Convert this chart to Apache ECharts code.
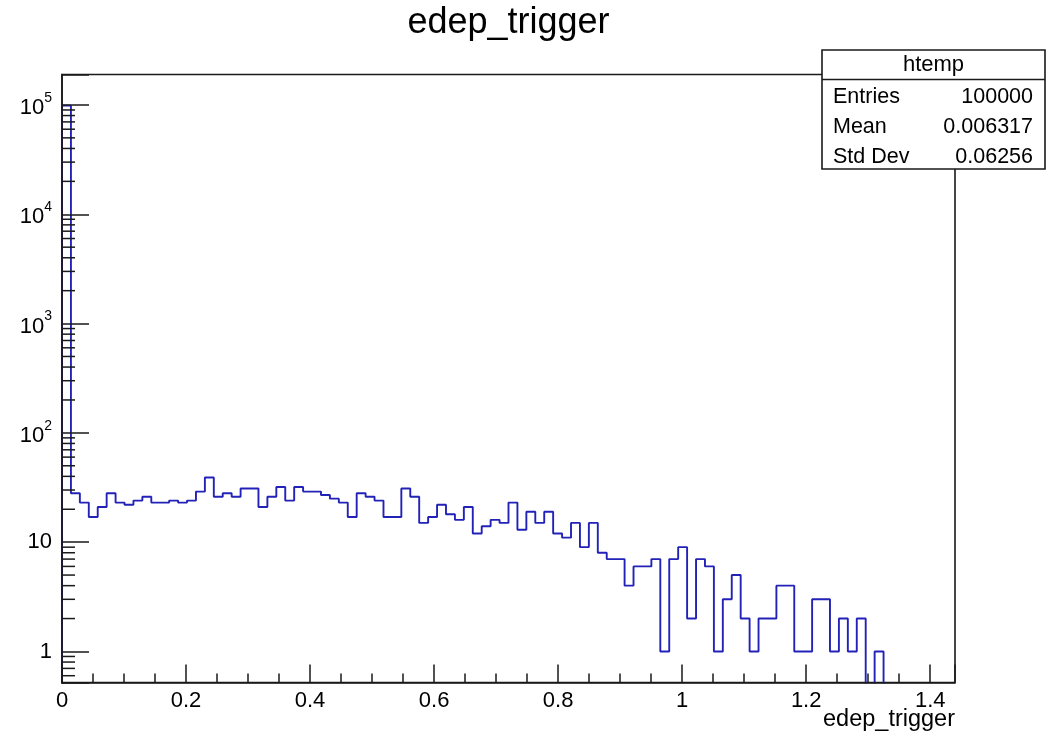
<!DOCTYPE html>
<html>
<head>
<meta charset="utf-8">
<script src="https://cdn.jsdelivr.net/npm/echarts@6/dist/echarts.min.js"></script>
<style>
html, body { margin: 0; padding: 0; background: #ffffff; }
#chart { width: 1058px; height: 740px; }
</style>
</head>
<body>
<div id="chart"></div>
<script>
// ---------- data ----------
const chartTitle = 'edep_trigger';
const xAxisTitle = 'edep_trigger';
const binLow = 0;
const binWidth = 0.0144;
const counts = [
  98574, 28, 23, 17, 21, 28, 23, 22, 24, 26,
  23, 23, 24, 23, 24, 29, 39, 26, 28, 26,
  31, 31, 21, 26, 32, 24, 32, 29, 29, 27,
  25, 23, 17, 28, 26, 24, 17, 17, 31, 26,
  15, 17, 22, 18, 16, 21, 12, 14, 16, 15,
  23, 13, 19, 15, 19, 12, 11, 15, 9, 15,
  8, 7, 7, 4, 6, 6, 7, 1, 7, 9,
  2, 7, 6, 1, 3, 5, 2, 1, 2, 2,
  4, 4, 1, 1, 3, 3, 1, 2, 1, 2,
  0, 1, 0, 0, 0, 0, 0, 0, 0, 0
];
const xRange = [0, 1.44];
const xTickStep = 0.2;
const yRange = [0.52, 1.9e5];
const statsTitle = 'htemp';
const statsNames = ['Entries', 'Mean', 'Std Dev'];
const statsValues = ['100000', '0.006317', '0.06256'];

// ---------- styles ----------
const FONT = '"Liberation Sans", Arial, Helvetica, sans-serif';
const LINE_BLUE = '#2222b8';
const AXIS_COL = '#1a1a1a';

// histogram outline (zero bins drop below the frame and are clipped)
const floorVal = yRange[0] * 0.7;
const outline = [[binLow, floorVal]];
counts.forEach((c, i) => {
  const x0 = binLow + i * binWidth;
  const x1 = x0 + binWidth;
  const y = Math.max(c, floorVal);
  outline.push([x0, y], [x1, y]);
});
outline.push([binLow + counts.length * binWidth, floorVal]);

// minor ticks for the log axis at 2..9 x 10^n
const yMinorTicks = [];
for (let e = -1; e <= 5; e++) {
  for (let k = 2; k <= 9; k++) {
    const v = k * Math.pow(10, e);
    if (v > yRange[0] && v < yRange[1]) yMinorTicks.push([xRange[0], v]);
  }
}

const gridL = 62, gridR = 955, gridT = 74.5, gridB = 682.5;

const chart = echarts.init(document.getElementById('chart'), null, { renderer: 'canvas' });
chart.setOption({
  animation: false,
  backgroundColor: '#ffffff',
  grid: {
    left: gridL, top: gridT, width: gridR - gridL, height: gridB - gridT,
    containLabel: false, outerBoundsMode: 'none',
    show: true, borderColor: AXIS_COL, borderWidth: 1.6, backgroundColor: 'transparent'
  },
  xAxis: {
    type: 'value', min: xRange[0], max: xRange[1], interval: xTickStep, z: 5,
    axisLine: { show: true, onZero: false, lineStyle: { color: AXIS_COL, width: 1.6 } },
    axisTick: { show: true, inside: true, length: 18, lineStyle: { color: AXIS_COL, width: 1.5 } },
    minorTick: { show: true, splitNumber: 4, length: 9, lineStyle: { color: AXIS_COL, width: 1.5 } },
    splitLine: { show: false },
    axisLabel: {
      show: true, fontSize: 22, color: '#000', fontFamily: FONT, margin: 7, showMaxLabel: false,
      formatter: v => {
        const r = v / xTickStep;
        return Math.abs(r - Math.round(r)) < 1e-6 ? String(Math.round(r * xTickStep * 10) / 10) : '';
      }
    }
  },
  yAxis: {
    type: 'log', logBase: 10, min: yRange[0], max: yRange[1], z: 5,
    axisLine: { show: true, onZero: false, lineStyle: { color: AXIS_COL, width: 1.6 } },
    axisTick: { show: true, inside: true, length: 27, lineStyle: { color: AXIS_COL, width: 1.5 } },
    minorTick: { show: false },
    splitLine: { show: false },
    axisLabel: {
      show: true, fontSize: 22, color: '#000', fontFamily: FONT, margin: 10,
      formatter: v => {
        const e = Math.log10(v);
        const r = Math.round(e);
        if (Math.abs(e - r) > 1e-6) return '';
        if (r === 0) return '1';
        if (r === 1) return '10';
        return '{b|10}{s|' + r + '}';
      },
      rich: {
        b: { fontSize: 22, fontFamily: FONT, color: '#000', verticalAlign: 'bottom', padding: [6, 0, 0, 0] },
        s: { fontSize: 14, fontFamily: FONT, color: '#000', verticalAlign: 'top', padding: [0, 0, 0, 0] }
      }
    }
  },
  series: [
    {
      type: 'line', data: outline, symbol: 'none', showSymbol: false, clip: true, z: 2,
      lineStyle: { color: LINE_BLUE, width: 1.9 }, silent: true
    },
    {
      type: 'custom', data: yMinorTicks, z: 6, silent: true, clip: false,
      renderItem: (params, api) => {
        const p = api.coord([api.value(0), api.value(1)]);
        return {
          type: 'line',
          shape: { x1: p[0], y1: p[1], x2: p[0] + 13, y2: p[1] },
          style: { stroke: AXIS_COL, lineWidth: 1.5 }
        };
      }
    }
  ],
  graphic: [
    { type: 'text', x: (gridL + gridR) / 2, y: 23, z: 10,
      style: { text: chartTitle, fontSize: 36, fontFamily: FONT, fill: '#000', align: 'center', verticalAlign: 'middle' } },
    { type: 'text', x: gridR, y: 720, z: 10,
      style: { text: xAxisTitle, fontSize: 23.5, fontFamily: FONT, fill: '#000', align: 'right', verticalAlign: 'middle' } },
    { type: 'rect', z: 20, shape: { x: 822, y: 50, width: 223, height: 119 },
      style: { fill: '#ffffff', stroke: AXIS_COL, lineWidth: 1.6 } },
    { type: 'line', z: 21, shape: { x1: 822, y1: 79.5, x2: 1045, y2: 79.5 },
      style: { stroke: AXIS_COL, lineWidth: 1.6 } },
    { type: 'text', x: 933.5, y: 64.5, z: 22,
      style: { text: statsTitle, fontSize: 22, fontFamily: FONT, fill: '#000', align: 'center', verticalAlign: 'middle' } },
    ...statsNames.map((n, i) => ({ type: 'text', x: 833, y: 97 + i * 30, z: 22,
      style: { text: n, fontSize: 21.5, fontFamily: FONT, fill: '#000', align: 'left', verticalAlign: 'middle' } })),
    ...statsValues.map((v, i) => ({ type: 'text', x: 1033, y: 97 + i * 30, z: 22,
      style: { text: v, fontSize: 21.5, fontFamily: FONT, fill: '#000', align: 'right', verticalAlign: 'middle' } }))
  ]
});
</script>
</body>
</html>
